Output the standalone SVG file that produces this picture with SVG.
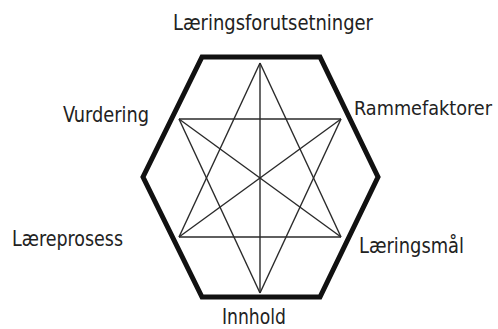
<svg xmlns="http://www.w3.org/2000/svg" width="498" height="329" viewBox="0 0 498 329">
<style>
.hex{fill:none;stroke:#111;stroke-width:5;stroke-linejoin:miter}
.ln{stroke:#2a2a2a;stroke-width:1.4;fill:none}
.lbl{font-family:"DejaVu Sans Condensed","DejaVu Sans",sans-serif;font-size:21px;fill:#222}
.sm{font-size:20px}
</style>
<rect width="498" height="329" fill="#fff"/>
<g id="frame">
<polygon class="hex" points="202,57 320,57 378,177 320,297 202,297 143,177"/>
</g>
<g id="connectors">
<line class="ln" x1="260" y1="63" x2="179" y2="237"/>
<line class="ln" x1="260" y1="63" x2="341" y2="237"/>
<line class="ln" x1="179" y1="237" x2="341" y2="237"/>
<line class="ln" x1="179" y1="119" x2="341" y2="119"/>
<line class="ln" x1="179" y1="119" x2="260" y2="293"/>
<line class="ln" x1="341" y1="119" x2="260" y2="293"/>
<line class="ln" x1="260" y1="63" x2="260" y2="293"/>
<line class="ln" x1="179" y1="119" x2="341" y2="237"/>
<line class="ln" x1="341" y1="119" x2="179" y2="237"/>
</g>
<g id="n-laeringsforutsetninger"><text class="lbl" x="173" y="30" textLength="200" lengthAdjust="spacingAndGlyphs">Læringsforutsetninger</text></g>
<g id="n-vurdering"><text class="lbl" x="63" y="122" textLength="86" lengthAdjust="spacingAndGlyphs">Vurdering</text></g>
<g id="n-rammefaktorer"><text class="lbl sm" x="354" y="115" textLength="138" lengthAdjust="spacingAndGlyphs">Rammefaktorer</text></g>
<g id="n-laereprosess"><text class="lbl" x="12" y="246" textLength="111" lengthAdjust="spacingAndGlyphs">Læreprosess</text></g>
<g id="n-laeringsmal"><text class="lbl" x="359" y="253" textLength="105" lengthAdjust="spacingAndGlyphs">Læringsmål</text></g>
<g id="n-innhold"><text class="lbl" x="222" y="324" textLength="64" lengthAdjust="spacingAndGlyphs">Innhold</text></g>
</svg>
